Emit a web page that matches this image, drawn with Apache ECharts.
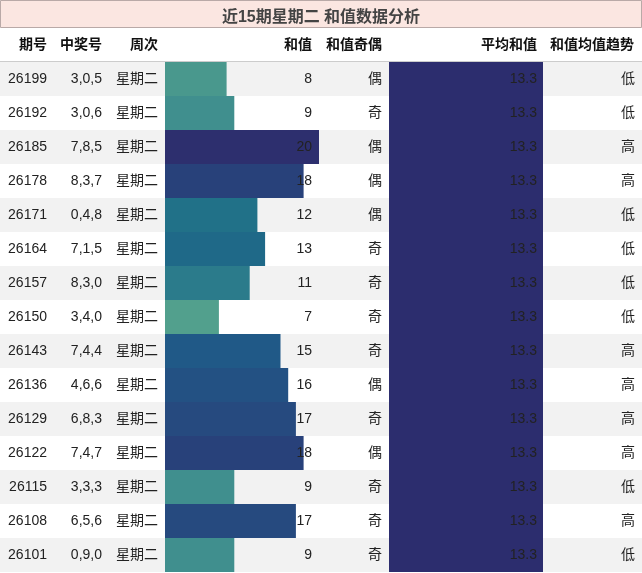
<!DOCTYPE html>
<html><head><meta charset="utf-8">
<script src="https://cdn.jsdelivr.net/npm/echarts@6/dist/echarts.min.js"></script>
<style>html,body{margin:0;padding:0;background:#fff}#c{width:642px;height:573px}</style>
</head><body><div id="c"></div>
<script>
const issues=['26199','26192','26185','26178','26171','26164','26157','26150','26143','26136','26129','26122','26115','26108','26101'];
const numbers=['3,0,5','3,0,6','7,8,5','8,3,7','0,4,8','7,1,5','8,3,0','3,4,0','7,4,4','4,6,6','6,8,3','7,4,7','3,3,3','6,5,6','0,9,0'];
const weekdays=Array(15).fill('星期二');
const sums=[8,9,20,18,12,13,11,7,15,16,17,18,9,17,9];
const parity=['偶','奇','偶','偶','偶','奇','奇','奇','奇','偶','奇','偶','奇','奇','奇'];
const avgs=Array(15).fill(13.3);
const trends=['低','低','高','高','低','低','低','低','高','高','高','高','低','高','低'];
const headers=['期号','中奖号','周次','和值','和值奇偶','平均和值','和值均值趋势'];
const title='近15期星期二 和值数据分析';

const rows=issues.map((_,i)=>i);
const gTop=62,gH=510;
const font='"Liberation Sans","Noto Sans CJK SC",sans-serif';
const chart=echarts.init(document.getElementById('c'));
const cols=[[47,'right',issues],[102,'right',numbers],[158,'right',weekdays],[312,'right',sums],[375,'center',parity],[537,'right',avgs.map(v=>v.toFixed(1))],[635,'right',trends]];
const hdrX=[[47,'right'],[102,'right'],[158,'right'],[312,'right'],[354,'center'],[537,'right'],[634,'right']];
chart.setOption({
  animation:false,
  title:{text:title,left:'center',top:5,textStyle:{fontSize:16,fontWeight:'bold',color:'#444',fontFamily:font}},
  graphic:[{type:'rect',z:-1,shape:{x:0.5,y:0.5,width:641,height:27},style:{fill:'#fbe6e1',stroke:'#b9a9a7',lineWidth:1}}]
   .concat(headers.map((t,i)=>({type:'text',x:hdrX[i][0],y:45,style:{text:t,align:hdrX[i][1],verticalAlign:'middle',font:'bold 14px '+font,fill:'#111'}})))
   .concat([{type:'line',shape:{x1:0,y1:61.5,x2:642,y2:61.5},style:{stroke:'#ccc',lineWidth:1}}]),
  grid:[{left:0,right:0,top:gTop,height:gH},{left:165,width:154,top:gTop,height:gH},{left:389,width:154,top:gTop,height:gH}],
  xAxis:[{gridIndex:0,type:'value',min:0,max:642,show:false},
         {gridIndex:1,type:'value',min:0,max:20,show:false},
         {gridIndex:2,type:'value',min:0,max:13.3,show:false}],
  yAxis:[0,1,2].map(g=>({gridIndex:g,type:'category',data:rows,inverse:true,show:g===0,axisLine:{show:false},axisTick:{show:false},axisLabel:{show:false},
     splitArea:{show:g===0,areaStyle:{color:['#f2f2f2','#ffffff']}},splitLine:{show:false}})),
  visualMap:{show:false,type:'continuous',seriesIndex:0,min:7,max:20,dimension:0,inRange:{color:['#52a08d','#3a8a8e','#1f6f88','#1f5a88','#27477d','#2d2f6e']}},
  series:[
    {type:'bar',xAxisIndex:1,yAxisIndex:1,data:sums,barWidth:34,z:2},
    {type:'bar',xAxisIndex:2,yAxisIndex:2,data:avgs,barWidth:34,itemStyle:{color:'#2c2d6e'},z:2},
    {type:'custom',xAxisIndex:0,yAxisIndex:0,z:5,data:rows,renderItem:(p,api)=>{
      const r=api.value(0);const y=api.coord([0,r])[1];
      return {type:'group',children:cols.map(c=>({type:'text',x:c[0],y:y,style:{text:String(c[2][r]),align:c[1],verticalAlign:'middle',font:'14px '+font,fill:'#222'}}))};
    },encode:{y:0}}
  ]
});
</script></body></html>
